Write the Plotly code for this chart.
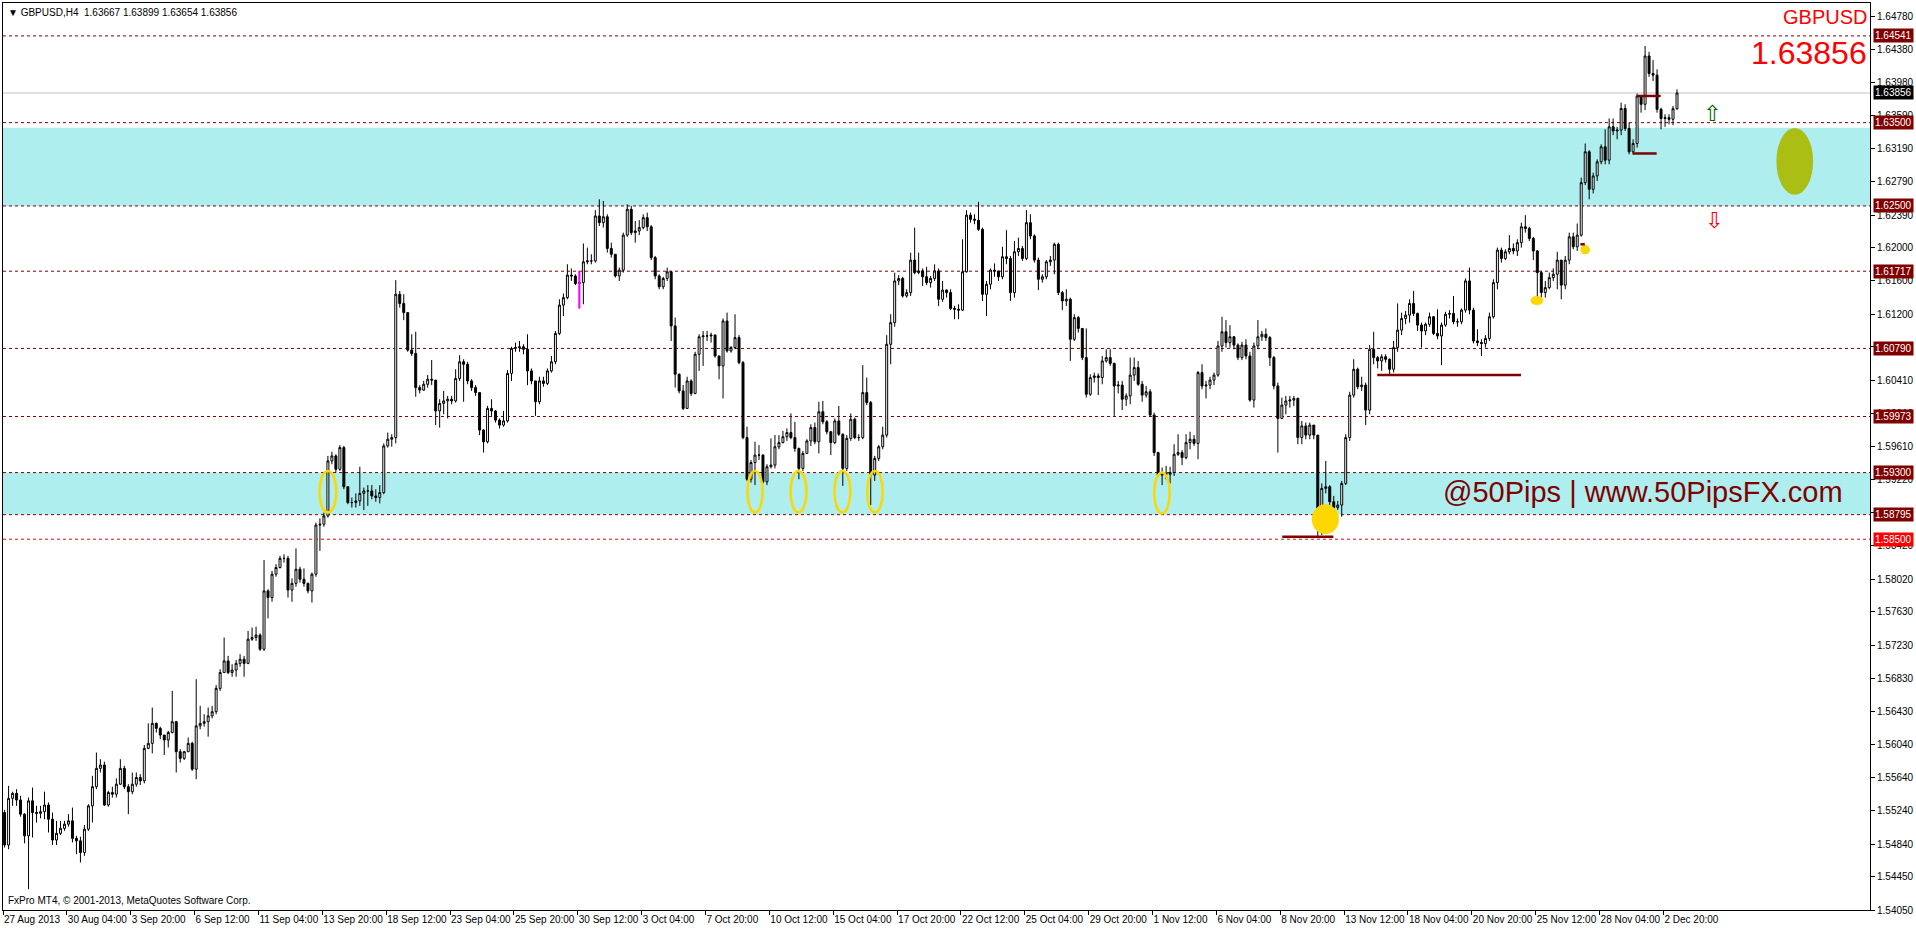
import plotly.graph_objects as go

# ---------------- data ----------------
first_open = 1.5522
closes = [
1.5483,1.5539,1.5545,1.5537,1.5520,1.5494,1.5536,1.5522,1.5521,1.5523,
1.5531,1.5514,1.5489,1.5497,1.5503,1.5508,1.5512,1.5491,1.5488,1.5474,
1.5502,1.5530,1.5553,1.5575,1.5579,1.5531,1.5546,1.5544,1.5556,1.5575,
1.5553,1.5547,1.5556,1.5564,1.5560,1.5599,1.5605,1.5629,1.5623,1.5615,
1.5609,1.5618,1.5631,1.5595,1.5587,1.5595,1.5605,1.5574,1.5626,1.5629,
1.5631,1.5638,1.5643,1.5671,1.5690,1.5704,1.5690,1.5693,1.5701,1.5706,
1.5701,1.5730,1.5732,1.5735,1.5718,1.5788,1.5780,1.5808,1.5816,1.5827,
1.5827,1.5789,1.5797,1.5814,1.5802,1.5797,1.5788,1.5808,1.5867,1.5868,
1.5878,1.5944,1.5950,1.5934,1.5960,1.5913,1.5894,1.5894,1.5896,1.5905,
1.5908,1.5908,1.5902,1.5900,1.5906,1.5962,1.5970,1.5972,1.6144,1.6133,
1.6122,1.6077,1.6073,1.6032,1.6029,1.6036,1.6042,1.6041,1.6004,1.6013,
1.6016,1.6018,1.6016,1.6043,1.6063,1.6060,1.6040,1.6032,1.6026,1.5981,
1.5967,1.6007,1.6004,1.5993,1.5987,1.5992,1.6049,1.6079,1.6080,1.6081,
1.6078,1.6052,1.6040,1.6015,1.6040,1.6037,1.6052,1.6063,1.6097,1.6131,
1.6140,1.6167,1.6166,1.6157,1.6158,1.6183,1.6184,1.6184,1.6238,1.6230,
1.6237,1.6199,1.6192,1.6166,1.6173,1.6215,1.6246,1.6218,1.6220,1.6224,
1.6236,1.6225,1.6188,1.6166,1.6153,1.6163,1.6171,1.6106,1.6048,1.6028,
1.6007,1.6040,1.6025,1.6072,1.6093,1.6094,1.6094,1.6095,1.6070,1.6058,
1.6112,1.6076,1.6080,1.6092,1.6062,1.5972,1.5922,1.5942,1.5951,1.5951,
1.5919,1.5937,1.5939,1.5961,1.5966,1.5973,1.5978,1.5972,1.5959,1.5935,
1.5953,1.5968,1.5984,1.5967,1.6003,1.5991,1.5979,1.5966,1.5992,1.5976,
1.5935,1.5971,1.5994,1.5972,1.5972,1.6026,1.6014,1.5927,1.5947,1.5961,
1.5975,1.6084,1.6110,1.6160,1.6163,1.6142,1.6146,1.6185,1.6170,1.6172,
1.6165,1.6158,1.6163,1.6172,1.6138,1.6149,1.6146,1.6127,1.6126,1.6125,
1.6171,1.6239,1.6234,1.6233,1.6222,1.6144,1.6156,1.6173,1.6172,1.6165,
1.6189,1.6187,1.6146,1.6195,1.6199,1.6187,1.6230,1.6214,1.6185,1.6162,
1.6165,1.6183,1.6185,1.6204,1.6146,1.6136,1.6138,1.6090,1.6116,1.6103,
1.6068,1.6024,1.6044,1.6046,1.6044,1.6064,1.6068,1.6061,1.6034,1.6035,
1.6018,1.6022,1.6047,1.6056,1.6036,1.6023,1.6027,1.5999,1.5954,1.5927,
1.5929,1.5928,1.5930,1.5952,1.5954,1.5948,1.5966,1.5970,1.5965,1.6050,
1.6034,1.6035,1.6041,1.6047,1.6082,1.6099,1.6086,1.6093,1.6083,1.6068,
1.6083,1.6070,1.6017,1.6082,1.6093,1.6096,1.6092,1.6068,1.6034,1.5995,
1.6011,1.6016,1.6017,1.6019,1.5972,1.5986,1.5975,1.5987,1.5975,1.5870,
1.5911,1.5913,1.5895,1.5888,1.5891,1.5917,1.5972,1.6023,1.6054,1.6033,
1.6035,1.6005,1.6078,1.6068,1.6064,1.6069,1.6066,1.6054,1.6080,1.6101,
1.6115,1.6119,1.6133,1.6121,1.6107,1.6100,1.6108,1.6117,1.6097,1.6094,
1.6107,1.6120,1.6121,1.6111,1.6111,1.6125,1.6160,1.6125,1.6088,1.6086,
1.6085,1.6091,1.6117,1.6158,1.6197,1.6187,1.6195,1.6199,1.6196,1.6206,
1.6225,1.6223,1.6211,1.6196,1.6170,1.6146,1.6152,1.6164,1.6168,1.6185,
1.6155,1.6185,1.6213,1.6201,1.6215,1.6278,1.6315,1.6270,1.6286,1.6303,
1.6321,1.6305,1.6345,1.6340,1.6341,1.6367,1.6343,1.6315,1.6325,1.6382,
1.6372,1.6430,1.6409,1.6407,1.6366,1.6355,1.6356,1.6354,1.63667,1.63856,
]
highs = [
1.5525,1.5554,1.5547,1.5550,1.5542,1.5521,1.5540,1.5552,1.5530,1.5530,
1.5547,1.5534,1.5522,1.5512,1.5512,1.5512,1.5520,1.5528,1.5494,1.5493,
1.5507,1.5532,1.5566,1.5594,1.5586,1.5583,1.5548,1.5553,1.5563,1.5586,
1.5578,1.5556,1.5570,1.5570,1.5568,1.5603,1.5629,1.5648,1.5630,1.5625,
1.5615,1.5620,1.5668,1.5632,1.5598,1.5596,1.5612,1.5607,1.5682,1.5650,
1.5640,1.5648,1.5650,1.5675,1.5694,1.5732,1.5710,1.5700,1.5705,1.5712,
1.5710,1.5740,1.5744,1.5745,1.5737,1.5825,1.5790,1.5812,1.5820,1.5830,
1.5832,1.5830,1.5803,1.5839,1.5817,1.5815,1.5798,1.5810,1.5870,1.5875,
1.5882,1.5950,1.5955,1.5952,1.5963,1.5962,1.5913,1.5900,1.5905,1.5937,
1.5912,1.5915,1.5915,1.5910,1.5915,1.5965,1.5978,1.5976,1.6161,1.6148,
1.6144,1.6122,1.6096,1.6099,1.6035,1.6040,1.6047,1.6065,1.6041,1.6018,
1.6028,1.6022,1.6022,1.6054,1.6071,1.6066,1.6063,1.6042,1.6035,1.6026,
1.5982,1.6010,1.6018,1.6005,1.5995,1.6004,1.6053,1.6081,1.6086,1.6088,
1.6084,1.6096,1.6055,1.6040,1.6045,1.6045,1.6055,1.6070,1.6100,1.6138,
1.6145,1.6180,1.6175,1.6168,1.6172,1.6205,1.6200,1.6192,1.6245,1.6258,
1.6256,1.6240,1.6206,1.6192,1.6176,1.6218,1.6252,1.6250,1.6232,1.6233,
1.6240,1.6242,1.6227,1.6190,1.6168,1.6165,1.6176,1.6172,1.6116,1.6049,
1.6035,1.6045,1.6042,1.6075,1.6096,1.6100,1.6100,1.6098,1.6096,1.6070,
1.6115,1.6122,1.6082,1.6120,1.6095,1.6064,1.5985,1.5945,1.5967,1.5963,
1.5952,1.5940,1.5971,1.5975,1.5975,1.5980,1.5983,1.6001,1.5991,1.5960,
1.5956,1.5970,1.5988,1.5990,1.6015,1.6016,1.5993,1.5980,1.5995,1.6010,
1.5977,1.5975,1.6001,1.5996,1.5976,1.6059,1.6044,1.6016,1.5950,1.5963,
1.5985,1.6095,1.6120,1.6170,1.6167,1.6165,1.6150,1.6194,1.6224,1.6194,
1.6175,1.6177,1.6166,1.6180,1.6175,1.6160,1.6150,1.6150,1.6130,1.6132,
1.6210,1.6245,1.6242,1.6240,1.6255,1.6224,1.6160,1.6175,1.6181,1.6172,
1.6201,1.6221,1.6190,1.6208,1.6212,1.6202,1.6245,1.6240,1.6216,1.6188,
1.6168,1.6185,1.6190,1.6206,1.6206,1.6148,1.6150,1.6140,1.6120,1.6118,
1.6103,1.6103,1.6048,1.6050,1.6049,1.6070,1.6078,1.6078,1.6062,1.6040,
1.6040,1.6025,1.6068,1.6068,1.6064,1.6040,1.6034,1.6030,1.6002,1.5955,
1.5936,1.5938,1.5937,1.5964,1.5976,1.5957,1.5976,1.5979,1.5975,1.6052,
1.6060,1.6040,1.6045,1.6050,1.6088,1.6117,1.6113,1.6107,1.6094,1.6085,
1.6087,1.6090,1.6075,1.6086,1.6113,1.6100,1.6103,1.6094,1.6070,1.6038,
1.6020,1.6022,1.6022,1.6022,1.6020,1.5992,1.5990,1.5990,1.5985,1.5975,
1.5917,1.5944,1.5915,1.5902,1.5896,1.5920,1.5976,1.6027,1.6066,1.6056,
1.6045,1.6038,1.6083,1.6099,1.6070,1.6072,1.6072,1.6067,1.6088,1.6133,
1.6122,1.6124,1.6138,1.6148,1.6122,1.6110,1.6110,1.6122,1.6118,1.6126,
1.6110,1.6123,1.6125,1.6142,1.6115,1.6127,1.6163,1.6176,1.6128,1.6102,
1.6090,1.6095,1.6122,1.6162,1.6200,1.6200,1.6198,1.6215,1.6205,1.6210,
1.6230,1.6239,1.6225,1.6213,1.6197,1.6172,1.6160,1.6170,1.6175,1.6195,
1.6185,1.6190,1.6218,1.6218,1.6229,1.6284,1.6325,1.6317,1.6290,1.6306,
1.6324,1.6342,1.6355,1.6355,1.6345,1.6374,1.6372,1.6350,1.6330,1.6385,
1.6378,1.6442,1.6435,1.6425,1.6414,1.6368,1.6360,1.6360,1.6370,1.63899,
]
lows = [
1.5480,1.5478,1.5530,1.5530,1.5517,1.5485,1.5430,1.5492,1.5510,1.5515,
1.5514,1.5498,1.5483,1.5483,1.5495,1.5500,1.5505,1.5486,1.5472,1.5462,
1.5470,1.5500,1.5510,1.5550,1.5570,1.5530,1.5529,1.5540,1.5540,1.5555,
1.5550,1.5520,1.5544,1.5553,1.5555,1.5557,1.5598,1.5593,1.5618,1.5610,
1.5591,1.5600,1.5617,1.5570,1.5582,1.5585,1.5595,1.5572,1.5562,1.5622,
1.5625,1.5613,1.5635,1.5640,1.5668,1.5690,1.5688,1.5685,1.5685,1.5697,
1.5685,1.5700,1.5728,1.5728,1.5716,1.5716,1.5755,1.5775,1.5805,1.5815,
1.5822,1.5780,1.5775,1.5793,1.5798,1.5793,1.5785,1.5774,1.5805,1.5836,
1.5865,1.5876,1.5940,1.5930,1.5932,1.5910,1.5892,1.5888,1.5888,1.5890,
1.5885,1.5890,1.5898,1.5895,1.5893,1.5904,1.5960,1.5961,1.5965,1.6128,
1.6113,1.6075,1.6070,1.6021,1.6025,1.6028,1.6032,1.6035,1.5987,1.5984,
1.6000,1.5995,1.6012,1.6014,1.6040,1.6015,1.6036,1.6028,1.6022,1.5975,
1.5954,1.5965,1.5998,1.5990,1.5983,1.5985,1.5990,1.6040,1.6075,1.6075,
1.6072,1.6035,1.6036,1.5998,1.6012,1.6033,1.6035,1.6050,1.6060,1.6095,
1.6118,1.6138,1.6160,1.6155,1.6127,1.6132,1.6180,1.6180,1.6182,1.6226,
1.6224,1.6194,1.6188,1.6164,1.6160,1.6170,1.6213,1.6215,1.6206,1.6215,
1.6222,1.6220,1.6185,1.6162,1.6150,1.6150,1.6160,1.6088,1.6032,1.6025,
1.6005,1.6015,1.6022,1.6024,1.6052,1.6058,1.6088,1.6086,1.6068,1.6042,
1.6019,1.6074,1.6074,1.6078,1.6060,1.5970,1.5920,1.5918,1.5915,1.5945,
1.5917,1.5915,1.5935,1.5935,1.5958,1.5965,1.5968,1.5970,1.5955,1.5922,
1.5932,1.5955,1.5962,1.5964,1.5953,1.5988,1.5976,1.5951,1.5964,1.5974,
1.5914,1.5932,1.5968,1.5970,1.5968,1.5970,1.6011,1.5891,1.5920,1.5944,
1.5958,1.5972,1.6060,1.6105,1.6155,1.6140,1.6140,1.6142,1.6168,1.6168,
1.6154,1.6155,1.6152,1.6160,1.6130,1.6135,1.6140,1.6125,1.6114,1.6114,
1.6124,1.6170,1.6230,1.6228,1.6220,1.6136,1.6118,1.6150,1.6165,1.6160,
1.6162,1.6180,1.6136,1.6140,1.6190,1.6184,1.6185,1.6210,1.6182,1.6149,
1.6158,1.6162,1.6178,1.6168,1.6143,1.6125,1.6130,1.6064,1.6088,1.6098,
1.6065,1.6020,1.6022,1.6038,1.6023,1.6036,1.6062,1.6058,1.5998,1.6025,
1.6005,1.6010,1.6012,1.6040,1.6034,1.6015,1.6020,1.5997,1.5950,1.5925,
1.5915,1.5922,1.5917,1.5926,1.5950,1.5939,1.5946,1.5958,1.5962,1.5946,
1.6030,1.6019,1.6030,1.6035,1.6045,1.6075,1.6080,1.6080,1.6078,1.6065,
1.6065,1.6066,1.6015,1.6008,1.6078,1.6088,1.6088,1.6058,1.6030,1.5954,
1.5994,1.6000,1.6008,1.6010,1.5964,1.5964,1.5970,1.5970,1.5970,1.5854,
1.5855,1.5905,1.5883,1.5883,1.5885,1.5877,1.5915,1.5968,1.6020,1.6030,
1.6028,1.5987,1.6000,1.6060,1.6055,1.6052,1.6062,1.6048,1.6050,1.6075,
1.6095,1.6108,1.6110,1.6118,1.6100,1.6080,1.6095,1.6105,1.6095,1.6090,
1.6059,1.6105,1.6115,1.6108,1.6105,1.6108,1.6122,1.6120,1.6085,1.6082,
1.6070,1.6080,1.6088,1.6115,1.6150,1.6182,1.6185,1.6192,1.6192,1.6190,
1.6200,1.6218,1.6208,1.6185,1.6138,1.6140,1.6140,1.6150,1.6160,1.6150,
1.6138,1.6150,1.6180,1.6198,1.6196,1.6213,1.6275,1.6258,1.6265,1.6280,
1.6300,1.6300,1.6300,1.6335,1.6330,1.6335,1.6340,1.6312,1.6312,1.6320,
1.6362,1.6365,1.6405,1.6400,1.6362,1.6342,1.6345,1.6348,1.6347,1.63654,
]
magenta_bar = 144

x_labels = ["27 Aug 2013", "30 Aug 04:00", "3 Sep 20:00", "6 Sep 12:00", "11 Sep 04:00",
            "13 Sep 20:00", "18 Sep 12:00", "23 Sep 04:00", "25 Sep 20:00", "30 Sep 12:00",
            "3 Oct 04:00", "7 Oct 20:00", "10 Oct 12:00", "15 Oct 04:00", "17 Oct 20:00",
            "22 Oct 12:00", "25 Oct 04:00", "29 Oct 20:00", "1 Nov 12:00", "6 Nov 04:00",
            "8 Nov 20:00", "13 Nov 12:00", "18 Nov 04:00", "20 Nov 20:00", "25 Nov 12:00",
            "28 Nov 04:00", "2 Dec 20:00"]
label_step = 16

y_ticks = [1.64780, 1.64380, 1.63980, 1.63590, 1.63190, 1.62790, 1.62390, 1.62000, 1.61600,
           1.61200, 1.60810, 1.60410, 1.60010, 1.59610, 1.59220, 1.58820, 1.58420, 1.58020,
           1.57630, 1.57230, 1.56830, 1.56430, 1.56040, 1.55640, 1.55240, 1.54840, 1.54450,
           1.54050]

levels = [1.64541, 1.63500, 1.62500, 1.61717, 1.60790, 1.59973, 1.59300, 1.58795]
level_red = 1.58500
current_price = 1.63856
band_lo = [1.62500, 1.58795]
band_hi = [1.63440, 1.59300]

ell_x0 = [78.9, 186.1, 196.9, 207.9, 216.1, 288.0]
ell_x1 = [83.1, 189.9, 200.9, 211.9, 220.0, 291.9]
ell_lo = [1.5882, 1.5882, 1.5882, 1.5882, 1.5882, 1.5881]
ell_hi = [1.5932, 1.5932, 1.5932, 1.5932, 1.5932, 1.5930]

dot_x0 = [327.5, 382.3, 394.8]
dot_x1 = [334.3, 385.5, 397.2]
dot_lo = [1.5856, 1.6131, 1.6192]
dot_hi = [1.5892, 1.6142, 1.6203]

seg_x0 = [320.1, 343.9, 407.9, 409.1, 394.8]
seg_x1 = [332.9, 379.9, 413.9, 414.9, 395.9]
seg_y = [1.5853, 1.6047, 1.6313, 1.6382, 1.6204]

olive_x = (443.9, 453.1)
olive_y = (1.62634, 1.63437)
arrow_up = (427.8, 1.6361)
arrow_down = (428.3, 1.6233)
header = "▼ GBPUSD,H4\u00a0\u00a01.63667 1.63899 1.63654 1.63856"
footer = "FxPro MT4, © 2001-2013, MetaQuotes Software Corp."
brand = "@50Pips | www.50PipsFX.com"

# ---------------- figure ----------------
n = len(closes)
idx = list(range(n))
opens = [first_open] + closes[:-1]
opens[-1] = 1.63667
highs_c = [max(h, o, c) for h, o, c in zip(highs, opens, closes)]
lows_c = [min(l, o, c) for l, o, c in zip(lows, opens, closes)]

DARK = "#800000"
FONT = "Liberation Sans"

fig = go.Figure()
fig.add_trace(go.Candlestick(
    x=idx, open=opens, high=highs_c, low=lows_c, close=closes,
    increasing=dict(line=dict(color="black", width=1), fillcolor="white"),
    decreasing=dict(line=dict(color="black", width=1), fillcolor="black"),
    whiskerwidth=0, hoverinfo="skip", showlegend=False))
fig.add_trace(go.Scatter(
    x=[magenta_bar, magenta_bar], y=[lows_c[magenta_bar], highs_c[magenta_bar]],
    mode="lines", line=dict(color="#FF00FF", width=2), hoverinfo="skip", showlegend=False))

shapes = []
for lo, hi in zip(band_lo, band_hi):
    shapes.append(dict(type="rect", xref="paper", x0=0, x1=1, yref="y", y0=lo, y1=hi,
                       fillcolor="#AFEEEE", line=dict(width=0), layer="below"))
for lv in levels:
    shapes.append(dict(type="line", xref="paper", x0=0, x1=1, yref="y", y0=lv, y1=lv,
                       line=dict(color=DARK, width=1, dash="3px,3px"), layer="below"))
shapes.append(dict(type="line", xref="paper", x0=0, x1=1, yref="y", y0=level_red, y1=level_red,
                   line=dict(color="#FF0000", width=1, dash="3px,3px"), layer="below"))
shapes.append(dict(type="line", xref="paper", x0=0, x1=1, yref="y", y0=current_price,
                   y1=current_price, line=dict(color="#C0C0C0", width=1), layer="below"))
for a, b, lo, hi in zip(ell_x0, ell_x1, ell_lo, ell_hi):
    shapes.append(dict(type="circle", xref="x", yref="y", x0=a, x1=b, y0=lo, y1=hi,
                       line=dict(color="#FFD700", width=2.5)))
for a, b, lo, hi in zip(dot_x0, dot_x1, dot_lo, dot_hi):
    shapes.append(dict(type="circle", xref="x", yref="y", x0=a, x1=b, y0=lo, y1=hi,
                       fillcolor="#FFD700", line=dict(width=0)))
for a, b, yv in zip(seg_x0, seg_x1, seg_y):
    shapes.append(dict(type="line", xref="x", yref="y", x0=a, x1=b, y0=yv, y1=yv,
                       line=dict(color=DARK, width=2.5)))
shapes.append(dict(type="circle", xref="x", yref="y", x0=olive_x[0], x1=olive_x[1],
                   y0=olive_y[0], y1=olive_y[1], fillcolor="#AABE14", line=dict(width=0)))

ann = []
for lv in levels + [level_red, current_price]:
    bg = "#FF0000" if lv == level_red else ("black" if lv == current_price else DARK)
    ann.append(dict(xref="paper", x=1, xshift=3, xanchor="left", yref="y", y=lv,
                    yanchor="middle", text=f"{lv:.5f}", showarrow=False, bgcolor=bg,
                    borderpad=1, font=dict(family=FONT, size=10, color="white")))
ann.append(dict(xref="paper", x=0, xanchor="left", xshift=3, yref="paper", y=1,
                yanchor="middle", yshift=-9, text=header, showarrow=False,
                font=dict(family=FONT, size=10, color="black")))
ann.append(dict(xref="paper", x=0, xanchor="left", xshift=3, yref="paper", y=0,
                yanchor="middle", yshift=10, text=footer, showarrow=False,
                font=dict(family=FONT, size=10, color="black")))
ann.append(dict(xref="paper", x=1, xanchor="right", xshift=-1, yref="y", y=1.6477,
                yanchor="middle", text="GBPUSD", showarrow=False,
                font=dict(family=FONT, size=20, color="#FF0000")))
ann.append(dict(xref="paper", x=1, xanchor="right", xshift=-1, yref="y", y=1.64336,
                yanchor="middle", text=f"{current_price:.5f}", showarrow=False,
                font=dict(family=FONT, size=32, color="#FF0000")))
ann.append(dict(xref="x", x=461.1, xanchor="right", yref="y", y=1.59061,
                yanchor="middle", text=brand, showarrow=False,
                font=dict(family=FONT, size=29, color=DARK)))
ann.append(dict(xref="x", x=arrow_up[0], yref="y", y=arrow_up[1], text="⇧",
                showarrow=False, font=dict(family="DejaVu Sans", size=22, color="#006400")))
ann.append(dict(xref="x", x=arrow_down[0], yref="y", y=arrow_down[1], text="⇩",
                showarrow=False, font=dict(family="DejaVu Sans", size=22, color="#FF0000")))

tickpos = [k * label_step - 0.4 for k in range(len(x_labels))]

fig.update_layout(
    width=1916, height=928, autosize=False,
    margin=dict(l=2, r=43, t=2, b=18, pad=0),
    paper_bgcolor="white", plot_bgcolor="white",
    shapes=shapes, annotations=ann, showlegend=False,
    font=dict(family=FONT, size=10, color="black"),
    xaxis=dict(range=[-0.4, 467.35], rangeslider=dict(visible=False), showgrid=False,
               zeroline=False, showline=True, linecolor="black", linewidth=1, mirror=True,
               tickmode="array", tickvals=tickpos, ticktext=x_labels, ticks="outside",
               ticklen=4, tickcolor="black", tickangle=0, ticklabelposition="outside right",
               tickfont=dict(family=FONT, size=10, color="black"), fixedrange=True),
    yaxis=dict(range=[1.5405, 1.64936], side="right", showgrid=False, zeroline=False,
               showline=True, linecolor="black", linewidth=1, mirror=True,
               tickmode="array", tickvals=y_ticks, ticktext=[f"{v:.5f}" for v in y_ticks],
               ticks="outside", ticklen=4, tickcolor="black", tickangle=0,
               tickfont=dict(family=FONT, size=10, color="black"), fixedrange=True),
)

fig.write_html("out.html", config={"displayModeBar": False},
               post_script="document.body.style.margin='0';document.body.style.overflow='hidden';")
